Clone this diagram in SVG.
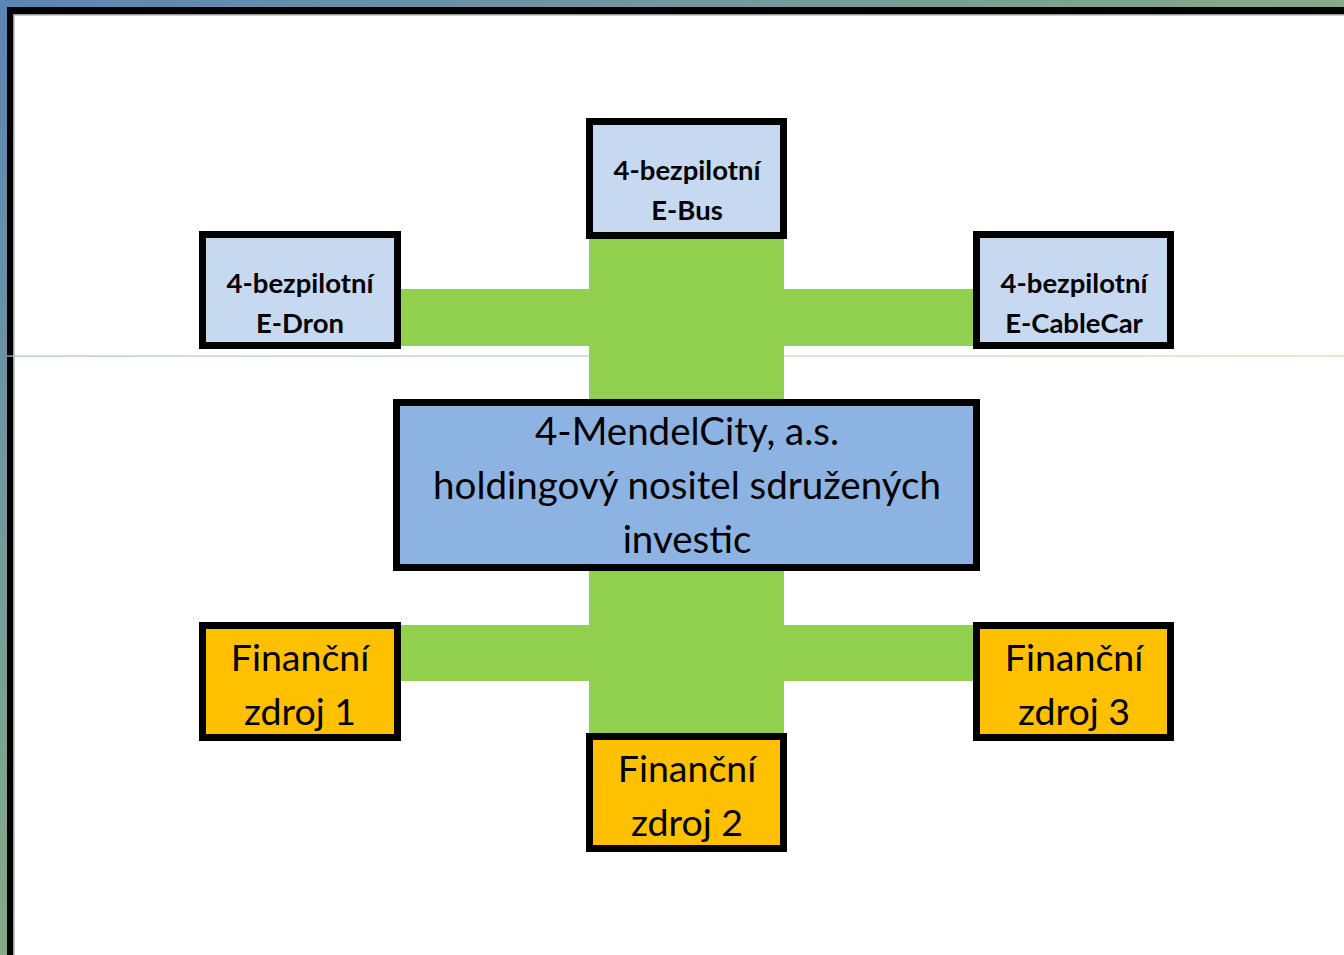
<svg xmlns="http://www.w3.org/2000/svg" width="1344" height="955" viewBox="0 0 1344 955">
<defs>
<linearGradient id="gTop" x1="0" y1="0" x2="1" y2="0"><stop offset="0" stop-color="#5a86b6"/><stop offset="1" stop-color="#86aa86"/></linearGradient>
<linearGradient id="gLeft" x1="0" y1="0" x2="0" y2="1"><stop offset="0" stop-color="#5a86b6"/><stop offset="1" stop-color="#86aa86"/></linearGradient>
<linearGradient id="gLine" x1="0" y1="0" x2="1" y2="0"><stop offset="0" stop-color="#a6c4d6"/><stop offset="1" stop-color="#c8dcae"/></linearGradient>
<style>
.box{stroke:#000;stroke-width:7}
.blue{fill:#c6d9f1}
.main{fill:#8db3e2}
.gold{fill:#ffc000}
.bar{fill:#92d050}
.sm{font-family:Lato,"Open Sans","Liberation Sans",sans-serif;font-weight:bold;font-size:27.5px;fill:#000;text-anchor:middle}
.lg{font-family:Lato,"Open Sans","Liberation Sans",sans-serif;font-size:38.5px;fill:#000;text-anchor:middle}
.fin{font-family:Lato,"Open Sans","Liberation Sans",sans-serif;font-size:37.5px;fill:#000;text-anchor:middle}
</style>
</defs>
<rect x="0" y="0" width="1344" height="955" fill="#fff"/>
<rect x="0" y="0" width="1344" height="7" fill="url(#gTop)"/>
<rect x="0" y="0" width="7" height="955" fill="url(#gLeft)"/>
<rect x="7" y="7" width="1337" height="7" fill="#000"/>
<rect x="7" y="7" width="6" height="948" fill="#000"/>
<rect x="13" y="14" width="1331" height="1.5" fill="#999"/>
<rect x="13" y="14" width="1.5" height="941" fill="#999"/>
<rect x="7" y="355.5" width="1337" height="1.2" fill="url(#gLine)"/>
<g id="connectors">
<rect class="bar" x="589" y="238" width="195" height="497"/>
<rect class="bar" x="400" y="289" width="574" height="57"/>
<rect class="bar" x="400" y="625" width="574" height="56"/>
</g>
<g id="ebus"><rect class="box blue" x="589.5" y="121.5" width="194" height="114"/><text class="sm" x="687" y="180">4-bezpilotní</text><text class="sm" x="687" y="220">E-Bus</text></g>
<g id="edron"><rect class="box blue" x="202.5" y="234.5" width="195" height="111"/><text class="sm" x="300" y="293">4-bezpilotní</text><text class="sm" x="300" y="333">E-Dron</text></g>
<g id="ecablecar"><rect class="box blue" x="976.5" y="234.5" width="194" height="111"/><text class="sm" x="1074" y="293">4-bezpilotní</text><text class="sm" x="1074" y="333">E-CableCar</text></g>
<g id="main"><rect class="box main" x="396.5" y="402.5" width="580" height="165"/><text class="lg" x="687" y="445">4-MendelCity, a.s.</text><text class="lg" x="687" y="499">holdingový nositel sdružených</text><text class="lg" x="687" y="553">investic</text></g>
<g id="fin1"><rect class="box gold" x="202.5" y="625.5" width="195" height="112"/><text class="fin" x="300" y="671">Finanční</text><text class="fin" x="300" y="725">zdroj 1</text></g>
<g id="fin3"><rect class="box gold" x="976.5" y="625.5" width="194" height="112"/><text class="fin" x="1074" y="671">Finanční</text><text class="fin" x="1074" y="725">zdroj 3</text></g>
<g id="fin2"><rect class="box gold" x="589.5" y="736.5" width="194" height="112"/><text class="fin" x="687" y="782">Finanční</text><text class="fin" x="687" y="836">zdroj 2</text></g>
</svg>
